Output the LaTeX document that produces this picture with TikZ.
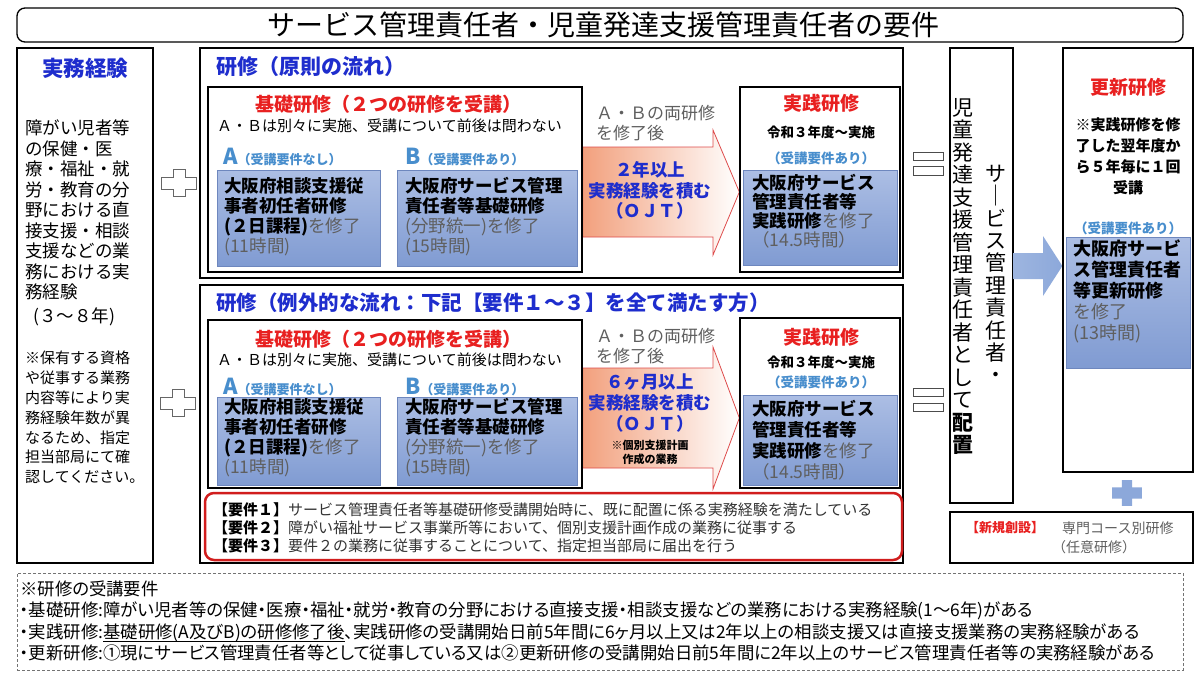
\documentclass[tikz,border=0pt]{standalone}
\usepackage{fontspec}
\setmainfont{Noto Sans CJK JP}
\newfontfamily\propfont[RawFeature=+palt]{Noto Sans CJK JP}
\usetikzlibrary{fit,backgrounds}

\definecolor{headblue}{RGB}{30,45,205}
\definecolor{hotred}{RGB}{232,32,32}
\definecolor{skyblue}{RGB}{72,142,205}
\definecolor{txtgray}{RGB}{95,95,95}
\definecolor{boxtop}{RGB}{172,190,228}
\definecolor{boxbot}{RGB}{128,155,210}
\definecolor{boxline}{RGB}{110,135,190}
\definecolor{arrowpink}{RGB}{242,160,125}
\definecolor{arrowred}{RGB}{222,75,75}
\definecolor{plusblue}{RGB}{140,168,218}

\newcommand\fsz[2]{\fontsize{#1}{#2}\selectfont}
\newcommand\ulinetext[1]{\setbox0\hbox{#1}\rlap{\rule[-3pt]{\wd0}{0.8pt}}\box0}
% plus sign centred at #2
\newcommand\plusshape[2]{\path[shift={(#2)},#1] (-6,-13.5) -- (6,-13.5) -- (6,-6) -- (17.5,-6) -- (17.5,6) -- (6,6) -- (6,13.5) -- (-6,13.5) -- (-6,6) -- (-17.5,6) -- (-17.5,-6) -- (-6,-6) -- cycle;}

\tikzset{
  frame/.style={draw, line width=1.3pt, inner sep=0pt},
  bluebox/.style={draw=boxline, line width=0.6pt, inner sep=0pt, top color=boxtop, bottom color=boxbot},
  eqbar/.style={draw=black!70, line width=0.8pt, inner sep=0pt, fill=white},
  reqbox/.style={draw=hotred!90!black, line width=2.5pt, rounded corners=9pt, inner sep=0pt},
  dashbox/.style={draw=black!55, dash pattern=on 3pt off 2pt, line width=0.8pt, inner sep=0pt},
  pinkarrow/.style={draw=arrowred, line width=0.8pt, left color=arrowpink, right color=white},
  bluearrow/.style={left color=plusblue!85, right color=plusblue, draw=none},
  hollowplus/.style={draw=black!60, line width=1pt, fill=white},
  blueplus/.style={fill=plusblue, xscale=0.85, yscale=0.95},
  txt/.style={inner sep=0pt, align=left, anchor=west},
  ctxt/.style={inner sep=0pt, align=center},
}

\begin{document}
\begin{tikzpicture}[x=1pt, y=-1pt]
\useasboundingbox (0,0) rectangle (1200,675);
\begin{scope}[on background layer]
  \fill[white] (0,0) rectangle (1200,675);
\end{scope}

% title
\node[frame, rounded corners=8pt, fit={(17,8) (1183,42)}] (ttlbox) {};
\node[ctxt, font=\fsz{28}{30}] (ttl) at (603,25) {サービス管理責任者・児童発達支援管理責任者の要件};

% left column
\node[frame, fit={(17,48) (153,563)}] (jitsumu) {};
\node[ctxt, font=\fsz{21.5}{23}\bfseries, text=headblue] (jitsumuT) at (85,68) {実務経験};
\node[txt, font=\fsz{17.5}{20.5}] (jitsumuA) at (25,210) {障がい児者等\\の保健・医\\療・福祉・就\\労・教育の分\\野における直\\接支援・相談\\支援などの業\\務における実\\務経験};
\node[txt, font=\fsz{17.5}{20}] (jitsumuY) at (33,317) {(３～８年)};
\node[txt, font=\fsz{15}{19.8}] (jitsumuN) at (25,417.5) {※保有する資格\\や従事する業務\\内容等により実\\務経験年数が異\\なるため、指定\\担当部局にて確\\認してください。};

\plusshape{hollowplus}{179,183}
\plusshape{hollowplus}{178,403}

% upper flow
\node[frame, fit={(200,48) (903,278)}] (gen) {};
\node[txt, font=\fsz{21}{22}\bfseries, text=headblue] (genT) at (216,67) {研修（原則の流れ）};
\node[frame, fit={(208,87) (582,272)}] (kiso1) {};
\node[ctxt, font=\fsz{19}{20}\bfseries, text=hotred] (kiso1T) at (388,104) {基礎研修（２つの研修を受講）};
\node[txt, font=\fsz{15}{16}] (kiso1S) at (217,126) {Ａ・Ｂは別々に実施、受講について前後は問わない};
\node[txt, text=skyblue, font=\bfseries] (labA1) at (223,157) {{\fsz{22}{22}A}{\fsz{13}{14}（受講要件なし）}};
\node[txt, text=skyblue, font=\bfseries] (labB1) at (405,157) {{\fsz{22}{22}B}{\fsz{13}{14}（受講要件あり）}};
\node[bluebox, fit={(217,170) (380,266)}] (bxA1) {};
\node[bluebox, fit={(397,170) (577,266)}] (bxB1) {};
\node[txt, font=\fsz{17.5}{20}\bfseries] (bxA1t) at (224,217) {大阪府相談支援従\\事者初任者研修\\(２日課程)\textcolor{txtgray}{\mdseries を修了}\\\textcolor{txtgray}{\mdseries (11時間)}};
\node[txt, font=\fsz{17.5}{20}\bfseries] (bxB1t) at (405,217) {大阪府サービス管理\\責任者等基礎研修\\\textcolor{txtgray}{\mdseries (分野統一)を修了}\\\textcolor{txtgray}{\mdseries (15時間)}};

\node[frame, fit={(740,87) (900,272)}] (jis1) {};
\node[ctxt, font=\fsz{19}{20}\bfseries, text=hotred] (jis1T) at (821,103) {実践研修};
\node[ctxt, font=\fsz{13.5}{14}\bfseries] (jis1D) at (821,132) {令和３年度～実施};
\node[ctxt, font=\fsz{13.5}{14}\bfseries, text=skyblue] (jis1L) at (821,158) {（受講要件あり）};
\node[bluebox, fit={(743,170) (897,265)}] (bxJ1) {};
\node[txt, font=\fsz{17.5}{19}\bfseries] (bxJ1t) at (752,211.5) {大阪府サービス\\管理責任者等\\実践研修\textcolor{txtgray}{\mdseries を修了}\\\textcolor{txtgray}{\mdseries （14.5時間）}};

\begin{scope}[on background layer]
\path[pinkarrow] (kiso1.east |- 0,147) -- (713,147) -- (713,130) -- (jis1.west |- 0,192) -- (713,255) -- (713,237) -- (kiso1.east |- 0,237) -- cycle;
\end{scope}
\node[txt, font=\fsz{17}{20}, text=txtgray] (ab1) at (596,123) {Ａ・Ｂの両研修\\を修了後};
\node[ctxt, font=\fsz{17.5}{20.5}\bfseries, text=headblue] (oj1) at (650,190.5) {２年以上\\実務経験を積む\\（ＯＪＴ）};

\node[eqbar, fit={(913,152) (943,160)}] (eq1a) {};
\node[eqbar, fit={(913,166) (943,175)}] (eq1b) {};

% lower flow
\node[frame, fit={(200,285) (903,563)}] (rei) {};
\node[txt, font=\fsz{20.5}{22}\bfseries, text=headblue] (reiT) at (216,303) {研修（例外的な流れ：下記【要件１～３】を全て満たす方）};
\node[frame, fit={(208,320) (582,488)}] (kiso2) {};
\node[ctxt, font=\fsz{19}{20}\bfseries, text=hotred] (kiso2T) at (388,339) {基礎研修（２つの研修を受講）};
\node[txt, font=\fsz{15}{16}] (kiso2S) at (217,360) {Ａ・Ｂは別々に実施、受講について前後は問わない};
\node[txt, text=skyblue, font=\bfseries] (labA2) at (223,387) {{\fsz{22}{22}A}{\fsz{13}{14}（受講要件なし）}};
\node[txt, text=skyblue, font=\bfseries] (labB2) at (405,387) {{\fsz{22}{22}B}{\fsz{13}{14}（受講要件あり）}};
\node[bluebox, fit={(217,397) (380,485)}] (bxA2) {};
\node[bluebox, fit={(397,397) (577,485)}] (bxB2) {};
\node[txt, font=\fsz{17.5}{20}\bfseries] (bxA2t) at (224,438) {大阪府相談支援従\\事者初任者研修\\(２日課程)\textcolor{txtgray}{\mdseries を修了}\\\textcolor{txtgray}{\mdseries (11時間)}};
\node[txt, font=\fsz{17.5}{20}\bfseries] (bxB2t) at (405,438) {大阪府サービス管理\\責任者等基礎研修\\\textcolor{txtgray}{\mdseries (分野統一)を修了}\\\textcolor{txtgray}{\mdseries (15時間)}};

\node[frame, fit={(740,318) (900,488)}] (jis2) {};
\node[ctxt, font=\fsz{19}{20}\bfseries, text=hotred] (jis2T) at (821,337) {実践研修};
\node[ctxt, font=\fsz{13.5}{14}\bfseries] (jis2D) at (821,362) {令和３年度～実施};
\node[ctxt, font=\fsz{13.5}{14}\bfseries, text=skyblue] (jis2L) at (821,382) {（受講要件あり）};
\node[bluebox, fit={(743,395) (897,485)}] (bxJ2) {};
\node[txt, font=\fsz{17.5}{21}\bfseries] (bxJ2t) at (752,440) {大阪府サービス\\管理責任者等\\実践研修\textcolor{txtgray}{\mdseries を修了}\\\textcolor{txtgray}{\mdseries （14.5時間）}};

\begin{scope}[on background layer]
\path[pinkarrow] (kiso2.east |- 0,368) -- (713,368) -- (713,347) -- (jis2.west |- 0,418) -- (713,489) -- (713,468) -- (kiso2.east |- 0,468) -- cycle;
\end{scope}
\node[txt, font=\fsz{17}{20}, text=txtgray] (ab2) at (596,346) {Ａ・Ｂの両研修\\を修了後};
\node[ctxt, font=\fsz{17.5}{21}\bfseries, text=headblue] (oj2) at (650,403.5) {６ヶ月以上\\実務経験を積む\\（ＯＪＴ）};
\node[ctxt, font=\fsz{11}{14}\bfseries] (oj2n) at (650,452) {※個別支援計画\\作成の業務};

\node[eqbar, fit={(913,388) (943,396)}] (eq2a) {};
\node[eqbar, fit={(913,403) (943,411)}] (eq2b) {};

% requirements
\node[reqbox, fit={(205,493) (902,560)}] (req) {};
\node[txt, font=\fsz{15}{18}, text=black!80] (reqT) at (213,528) {\textcolor{black}{\bfseries 【要件１】}サービス管理責任者等基礎研修受講開始時に、既に配置に係る実務経験を満たしている\\\textcolor{black}{\bfseries 【要件２】}障がい福祉サービス事業所等において、個別支援計画作成の業務に従事する\\\textcolor{black}{\bfseries 【要件３】}要件２の業務に従事することについて、指定担当部局に届出を行う};

% right side
\node[frame, fit={(950,48) (1013,503)}] (tate) {};
\node[ctxt, font=\fsz{21}{22.4}] (tateR) at (996,274) {サ\\｜\\ビ\\ス\\管\\理\\責\\任\\者\\・};
\node[ctxt, font=\fsz{21}{22.5}] (tateL) at (963,276.5) {児\\童\\発\\達\\支\\援\\管\\理\\責\\任\\者\\と\\し\\て\\\textbf{配}\\\textbf{置}};

\node[frame, fit={(1063,48) (1193,472)}] (kou) {};
\node[ctxt, font=\fsz{19}{20}\bfseries, text=hotred] (kouT) at (1128,87) {更新研修};
\node[ctxt, font=\fsz{15}{21}\bfseries] (kouN) at (1128,156.5) {※実践研修を修\\了した翌年度か\\ら５年毎に１回\\受講};
\node[ctxt, font=\fsz{13.5}{14}\bfseries, text=skyblue] (kouL) at (1128,228) {（受講要件あり）};
\node[bluebox, fit={(1066,237) (1190,368)}] (bxK) {};
\node[txt, font=\fsz{18}{20.8}\bfseries] (bxKt) at (1073,291.5) {大阪府サービ\\ス管理責任者\\等更新研修\\\textcolor{txtgray}{\mdseries を修了}\\\textcolor{txtgray}{\mdseries (13時間)}};

\path[bluearrow] (tate.east |- 0,253) -- (1043,253) -- (1043,236) -- (kou.west |- 0,266) -- (1043,296) -- (1043,279) -- (tate.east |- 0,279) -- cycle;

\plusshape{blueplus}{1127,493}

\node[frame, fit={(950,512) (1193,563)}] (shinki) {};
\node[txt, font=\fsz{13}{14}\bfseries, text=hotred] (shinkiT) at (966,528) {【新規創設】};
\node[txt, font=\fsz{14}{15}, text=txtgray] (shinkiA) at (1062,528) {専門コース別研修};
\node[txt, font=\fsz{14}{15}, text=txtgray] (shinkiB) at (1052,547) {（任意研修）};

% notes
\node[dashbox, fit={(17,573) (1183,670)}] (note) {};
\node[txt, font=\propfont\fsz{17.4}{21.5}] (noteT) at (20,621) {※研修の受講要件\\・基礎研修:障がい児者等の保健・医療・福祉・就労・教育の分野における直接支援・相談支援などの業務における実務経験(1～6年)がある\\・実践研修:\ulinetext{基礎研修(A及びB)の研修修了後}、実践研修の受講開始日前5年間に6ヶ月以上又は2年以上の相談支援又は直接支援業務の実務経験がある\\・更新研修:①現にサービス管理責任者等として従事している又は②更新研修の受講開始日前5年間に2年以上のサービス管理責任者等の実務経験がある};
\end{tikzpicture}
\end{document}
